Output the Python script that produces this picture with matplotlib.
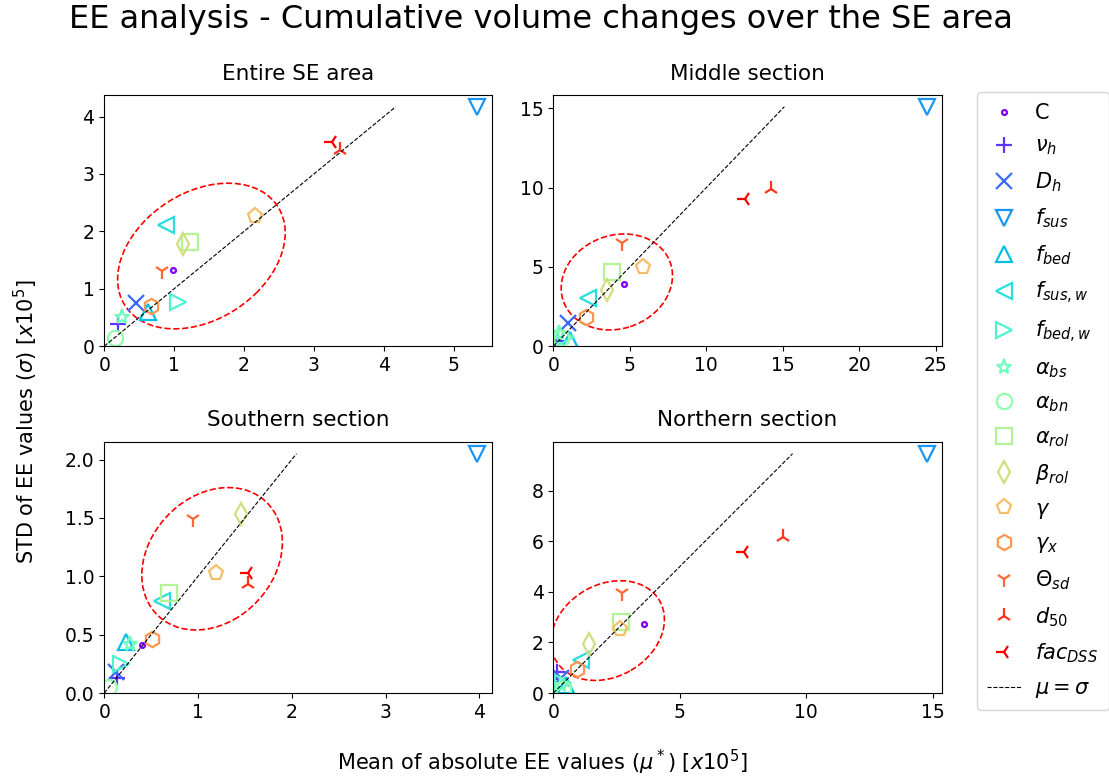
import numpy as np
import matplotlib
matplotlib.use('Agg')
import matplotlib.pyplot as plt
from matplotlib.patches import Ellipse
from matplotlib.ticker import MultipleLocator

# parameter names / markers
labels = ['C', r'$\nu_h$', r'$D_h$', r'$f_{sus}$', r'$f_{bed}$', r'$f_{sus,w}$', r'$f_{bed,w}$',
          r'$\alpha_{bs}$', r'$\alpha_{bn}$', r'$\alpha_{rol}$', r'$\beta_{rol}$', r'$\gamma$',
          r'$\gamma_x$', r'$\Theta_{sd}$', r'$d_{50}$', r'$fac_{DSS}$']
markers = ['.', '+', 'x', 'v', '^', '<', '>', '*', 'o', 's', 'd', 'p', 'h', '1', '2', '3']

titles = ['Entire SE area', 'Middle section', 'Southern section', 'Northern section']

# mu* and sigma per section (x10^5)
mu_entire = [0.98, 0.20, 0.46, 5.34, 0.63, 0.89, 1.05, 0.25, 0.16, 1.23, 1.12, 2.16, 0.67, 0.82, 3.38, 3.26]
sd_entire = [1.33, 0.38, 0.76, 4.17, 0.60, 2.11, 0.77, 0.50, 0.15, 1.82, 1.78, 2.26, 0.70, 1.31, 3.42, 3.56]

mu_middle = [4.62, 0.20, 0.96, 24.4, 1.10, 2.29, 0.80, 0.40, 0.50, 3.86, 3.49, 5.88, 2.11, 4.51, 14.2, 12.5]
sd_middle = [3.90, 0.30, 1.45, 15.1, 0.40, 3.02, 0.60, 0.80, 0.50, 4.68, 3.53, 5.02, 1.81, 6.53, 9.94, 9.26]

mu_south = [0.40, 0.14, 0.13, 3.98, 0.23, 0.62, 0.18, 0.27, 0.05, 0.69, 1.46, 1.19, 0.51, 0.95, 1.53, 1.53]
sd_south = [0.41, 0.13, 0.18, 2.05, 0.44, 0.79, 0.25, 0.42, 0.05, 0.86, 1.53, 1.03, 0.46, 1.49, 0.93, 1.03]

mu_north = [3.58, 0.15, 0.30, 14.76, 0.50, 1.08, 0.40, 0.30, 0.40, 2.68, 1.41, 2.63, 0.95, 2.72, 9.10, 7.53]
sd_north = [2.71, 0.85, 0.60, 9.46, 0.30, 1.32, 0.40, 0.30, 0.15, 2.80, 1.92, 2.54, 0.95, 3.94, 6.15, 5.58]

mus = [mu_entire, mu_middle, mu_south, mu_north]
sds = [sd_entire, sd_middle, sd_south, sd_north]

# ellipses around the influential group: (cx, cy, width, height, angle)
ellipses = [(1.39, 1.57, 2.84, 2.03, 50),
            (4.15, 4.05, 7.4, 5.9, 17.5),
            (1.15, 1.15, 1.56, 1.14, 24),
            (2.15, 2.47, 4.73, 3.64, 30)]

# tick steps (x, y) per panel
steps = [(1, 1), (5, 5), (1, 0.5), (5, 2)]

colors = plt.cm.rainbow(np.linspace(0, 1, len(labels)))

fig, axs = plt.subplots(2, 2, figsize=(11.09, 7.77), dpi=100)
fig.subplots_adjust(left=0.094, right=0.849, top=0.878, bottom=0.108, wspace=0.157, hspace=0.38)

for k, ax in enumerate(axs.flat):
    mu = mus[k]
    sd = sds[k]
    for i in range(len(labels)):
        ms = 7 if markers[i] == '.' else 11
        ax.plot(mu[i], sd[i], linestyle='none', marker=markers[i], color=colors[i],
                mfc='none', ms=ms, mew=1.6, label=labels[i])
    m = max(sd)
    ax.plot([0, m], [0, m], 'k--', lw=0.8, label=r'$\mu=\sigma$')
    cx, cy, w, h, a = ellipses[k]
    ax.add_patch(Ellipse((cx, cy), w, h, angle=a, fill=False, ec='red', ls='--', lw=1.2))
    ax.set_xlim(0, max(mu) * 1.04)
    ax.set_ylim(0, max(sd) * 1.05)
    ax.xaxis.set_major_locator(MultipleLocator(steps[k][0]))
    ax.yaxis.set_major_locator(MultipleLocator(steps[k][1]))
    ax.set_title(titles[k], fontsize=15.5, pad=11)
    ax.tick_params(labelsize=13.5)

fig.suptitle('EE analysis - Cumulative volume changes over the SE area', fontsize=23,
             x=0.488, y=0.995)
fig.text(0.489, 0.019, r'Mean of absolute EE values ($\mu^*$) [$x10^5$]', fontsize=15,
         ha='center', va='center')
fig.text(0.023, 0.457, r'STD of EE values ($\sigma$) [$x10^5$]', fontsize=15,
         ha='center', va='center', rotation=90)

h, l = axs[0, 0].get_legend_handles_labels()
fig.legend(h, l, loc='upper left', bbox_to_anchor=(0.881, 0.881), fontsize=15,
           labelspacing=0.62, handlelength=1.6, handletextpad=0.7, borderpad=0.5,
           borderaxespad=0)

plt.savefig('out.png', dpi=100)
